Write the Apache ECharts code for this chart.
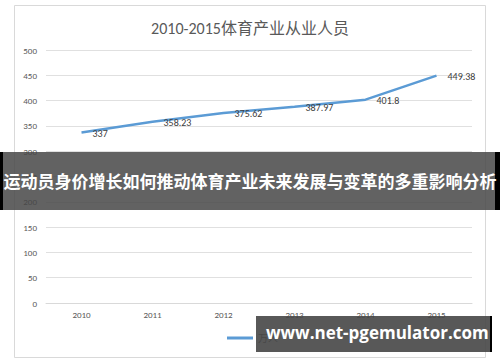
<!DOCTYPE html>
<html><head><meta charset="utf-8">
<script src="https://cdn.jsdelivr.net/npm/echarts@6/dist/echarts.min.js"></script>
<style>html,body{margin:0;padding:0;background:#fff;}#c{width:500px;height:362px;}</style>
</head><body><div id="c"></div>
<script>
const categories = ['2010','2011','2012','2013','2014','2015'];
const values = [337, 358.23, 375.62, 387.97, 401.8, 449.38];
const seriesName = '万人';
const titleText = '2010-2015体育产业从业人员';
const bannerText = '运动员身价增长如何推动体育产业未来发展与变革的多重影响分析';
const watermarkText = 'www.net-pgemulator.com';

const chart = echarts.init(document.getElementById('c'), null, {renderer: 'svg'});
const font = 'Calibri, "Liberation Sans", "Noto Sans CJK SC", sans-serif';
chart.setOption({
  backgroundColor: '#fff',
  animation: false,
  title: {text: titleText, left: 'center', top: 15,
    textStyle: {fontSize: 16, fontWeight: 'normal', color: '#595959', fontFamily: font}},
  grid: {left: 46, right: 28, top: 50, bottom: 59, containLabel: false},
  legend: {bottom: 14, left: 222, itemWidth: 26, itemHeight: 3, icon: 'rect',
    itemStyle: {color: '#5b9bd5'},
    textStyle: {fontSize: 10, color: '#595959', fontFamily: font}, data: [seriesName]},
  xAxis: {type: 'category', data: categories, boundaryGap: true,
    axisLine: {show: true, lineStyle: {color: '#d9d9d9'}}, axisTick: {show: false},
    axisLabel: {fontSize: 9, color: '#595959', margin: 7, fontFamily: font}},
  yAxis: {type: 'value', min: 0, max: 500, interval: 50,
    axisLine: {show: false}, axisTick: {show: false},
    splitLine: {lineStyle: {color: '#e0e0e0', width: 1}},
    axisLabel: {fontSize: 9, color: '#595959', margin: 9, fontFamily: font}},
  series: [{name: seriesName, type: 'line', data: values, showSymbol: true, symbol: 'circle', symbolSize: 2,
    lineStyle: {color: '#5b9bd5', width: 2.5}, itemStyle: {color: 'rgba(91,155,213,0)', borderWidth: 0},
    label: {show: true, position: 'right', distance: 10, offset: [0, 1], fontSize: 10, color: '#404040', fontFamily: font}}],
  graphic: [
    {type: 'rect', shape: {x: 14.5, y: 5.5, width: 471, height: 352}, style: {fill: 'none', stroke: '#d9d9d9', lineWidth: 1}, z: 0, silent: true},
    {type: 'rect', shape: {x: 0, y: 152, width: 500, height: 58}, style: {fill: 'rgba(70,70,70,0.85)'}, z: 100},
    {type: 'rect', shape: {x: 0, y: 152, width: 3, height: 58}, style: {fill: '#000'}, z: 101},
    {type: 'rect', shape: {x: 495, y: 152, width: 5, height: 58}, style: {fill: '#000'}, z: 101},
    {type: 'text', left: 'center', top: 172, z: 102,
      style: {text: bannerText, fill: '#fff', fontSize: 17, fontWeight: 'bold', fontFamily: '"Noto Sans CJK SC", sans-serif'}},
    {type: 'rect', shape: {x: 256, y: 316, width: 234, height: 36}, style: {fill: 'rgba(70,70,70,0.9)'}, z: 100},
    {type: 'rect', shape: {x: 490, y: 316, width: 2, height: 36}, style: {fill: '#000'}, z: 101},
    {type: 'text', left: 266, top: 324, z: 102,
      style: {text: watermarkText, fill: '#fff', fontSize: 17, fontWeight: 'bold', fontFamily: '"Open Sans", "Noto Sans", sans-serif'}}
  ]
});
</script></body></html>
